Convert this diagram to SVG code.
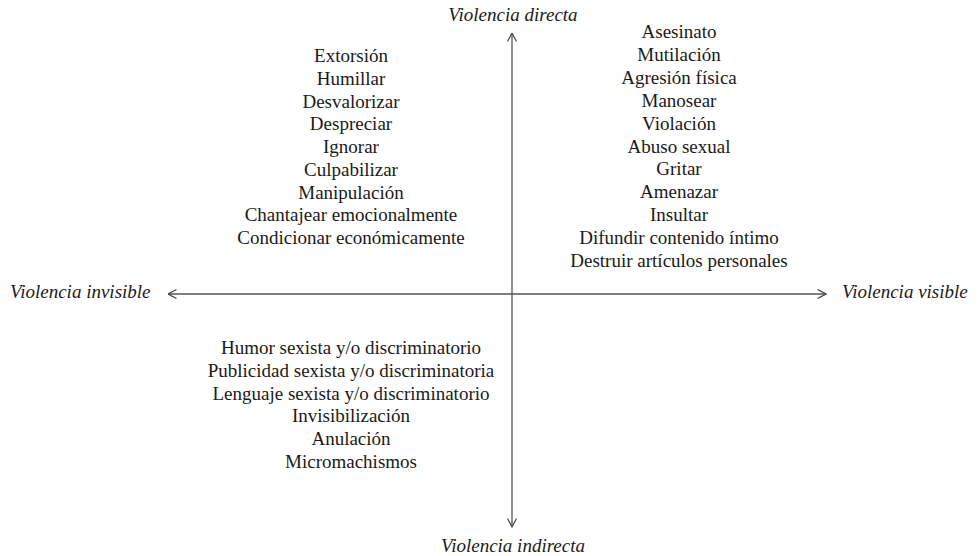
<svg xmlns="http://www.w3.org/2000/svg" width="977" height="556" viewBox="0 0 977 556">
<style>
.t{font-family:"Liberation Serif","Times New Roman",serif;font-size:19px;fill:#1a1a1a;text-anchor:middle}
.ax{font-family:"Liberation Serif","Times New Roman",serif;font-size:19px;font-style:italic;fill:#1a1a1a}
.axis{stroke:#555;stroke-width:1.3;fill:none}
</style>
<defs>
<marker id="arr" viewBox="0 0 10 10" refX="9.5" refY="5" markerWidth="10" markerHeight="10" markerUnits="userSpaceOnUse" orient="auto">
<path d="M1,0.5 L9.5,5 L1,9.5" fill="none" stroke="#444" stroke-width="1.2"/>
</marker>
</defs>
<rect width="977" height="556" fill="#fff"/>
<g id="connectors">
<line class="axis" x1="512" y1="294" x2="512" y2="33" marker-end="url(#arr)"/>
<line class="axis" x1="512" y1="294" x2="512" y2="527" marker-end="url(#arr)"/>
<line class="axis" x1="512" y1="294" x2="168" y2="294" marker-end="url(#arr)"/>
<line class="axis" x1="512" y1="294" x2="826" y2="294" marker-end="url(#arr)"/>
</g>
<g id="label-directa"><text class="ax" x="513" y="21" text-anchor="middle">Violencia directa</text></g>
<g id="label-indirecta"><text class="ax" x="513" y="552" text-anchor="middle">Violencia indirecta</text></g>
<g id="label-invisible"><text class="ax" x="10" y="298">Violencia invisible</text></g>
<g id="label-visible"><text class="ax" x="842" y="298">Violencia visible</text></g>
<g id="list-top-left">
<text class="t" x="351" y="62">Extorsión</text>
<text class="t" x="351" y="84.75">Humillar</text>
<text class="t" x="351" y="107.5">Desvalorizar</text>
<text class="t" x="351" y="130.25">Despreciar</text>
<text class="t" x="351" y="153">Ignorar</text>
<text class="t" x="351" y="175.75">Culpabilizar</text>
<text class="t" x="351" y="198.5">Manipulación</text>
<text class="t" x="351" y="221.25">Chantajear emocionalmente</text>
<text class="t" x="351" y="244">Condicionar económicamente</text>
</g>
<g id="list-top-right">
<text class="t" x="679" y="38">Asesinato</text>
<text class="t" x="679" y="60.9">Mutilación</text>
<text class="t" x="679" y="83.8">Agresión física</text>
<text class="t" x="679" y="106.7">Manosear</text>
<text class="t" x="679" y="129.6">Violación</text>
<text class="t" x="679" y="152.5">Abuso sexual</text>
<text class="t" x="679" y="175.4">Gritar</text>
<text class="t" x="679" y="198.3">Amenazar</text>
<text class="t" x="679" y="221.2">Insultar</text>
<text class="t" x="679" y="244.1">Difundir contenido íntimo</text>
<text class="t" x="679" y="267">Destruir artículos personales</text>
</g>
<g id="list-bottom-left">
<text class="t" x="351" y="354">Humor sexista y/o discriminatorio</text>
<text class="t" x="351" y="376.75">Publicidad sexista y/o discriminatoria</text>
<text class="t" x="351" y="399.5">Lenguaje sexista y/o discriminatorio</text>
<text class="t" x="351" y="422.25">Invisibilización</text>
<text class="t" x="351" y="445">Anulación</text>
<text class="t" x="351" y="467.75">Micromachismos</text>
</g>
</svg>
